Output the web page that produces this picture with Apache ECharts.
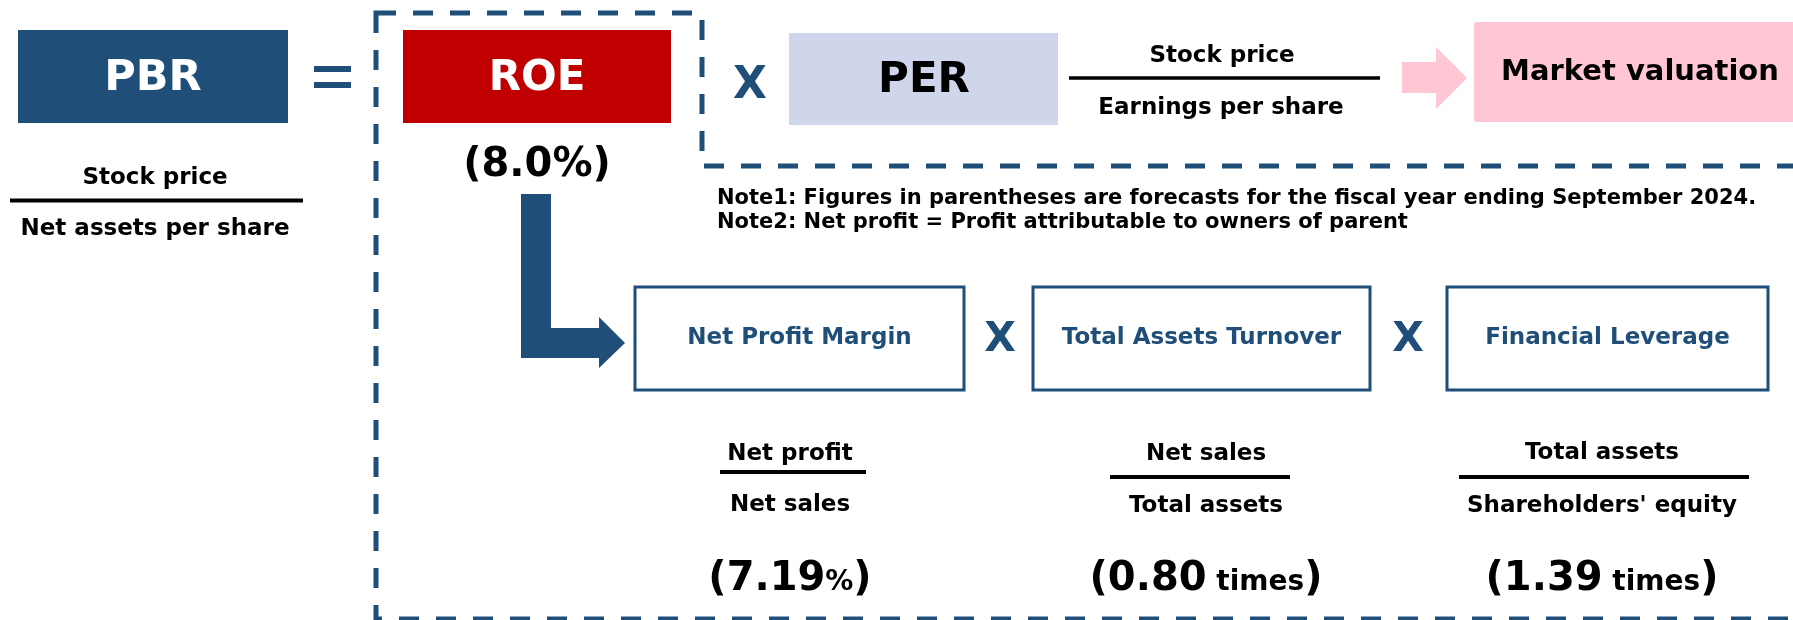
<!DOCTYPE html>
<html>
<head>
<meta charset="utf-8">
<script src="https://cdn.jsdelivr.net/npm/echarts@6/dist/echarts.min.js"></script>
<style>
html, body { margin: 0; padding: 0; background: #fff; }
#main { width: 1793px; height: 620px; }
</style>
</head>
<body>
<div id="main"></div>
<script>
// 数据
var topTerms = ['PBR', 'ROE', 'PER', 'Market valuation'];
var roeValue = '8.0';
var pbrFraction = ['Stock price', 'Net assets per share'];
var perFraction = ['Stock price', 'Earnings per share'];
var ratioNames = ['Net Profit Margin', 'Total Assets Turnover', 'Financial Leverage'];
var ratioNumer = ['Net profit', 'Net sales', 'Total assets'];
var ratioDenom = ['Net sales', 'Total assets', "Shareholders' equity"];
var ratioValues = ['7.19', '0.80', '1.39'];
var ratioUnits = ['%', ' times', ' times'];
var notes = [
    'Note1: Figures in parentheses are forecasts for the fiscal year ending September 2024.',
    'Note2: Net profit = Profit attributable to owners of parent'
];

// 样式/布局
var FONT = '"DejaVu Sans", Verdana, sans-serif';
var BLUE = '#1F4E79';
var boxX = [635, 1033, 1447];
var boxW = [329, 337, 321];
var colX = [790, 1206, 1602];
var fracLine = [[720, 866, 472], [1110, 1290, 477], [1459, 1749, 477]];
var numerY = [454, 454, 453];
var denomY = [505, 506, 506];
var timesX = [1000, 1408];

function txt(x, y, text, size, color, align) {
    return {
        type: 'text',
        style: {
            x: x, y: y, text: text,
            fontFamily: FONT, fontWeight: 'bold', fontSize: size,
            fill: color || '#000',
            align: align || 'center', verticalAlign: 'middle'
        }
    };
}
function rect(x, y, w, h, fill, stroke, lw) {
    return {
        type: 'rect',
        shape: { x: x, y: y, width: w, height: h },
        style: { fill: fill || 'none', stroke: stroke || null, lineWidth: lw || 0 }
    };
}
function line(x1, y1, x2, y2, lw, color) {
    return {
        type: 'line',
        shape: { x1: x1, y1: y1, x2: x2, y2: y2 },
        style: { stroke: color || '#000', lineWidth: lw }
    };
}
function valueText(x, y, num, unit, unitSize) {
    var base = { fontFamily: FONT, fontWeight: 'bold', fill: '#000', verticalAlign: 'bottom', lineHeight: 48 };
    return {
        type: 'text',
        style: {
            x: x, y: y, text: '{n|(' + num + '}{u|' + unit + '}{n|)}',
            align: 'center', verticalAlign: 'middle',
            rich: {
                n: Object.assign({ fontSize: 40 }, base),
                u: Object.assign({ fontSize: unitSize, padding: [0, 0, 3, 0] }, base)
            }
        }
    };
}

var els = [];

// 虚线框
els.push({
    type: 'polygon',
    shape: { points: [[376, 13], [702, 13], [702, 166], [1815, 166], [1815, 619], [376, 619]] },
    style: { fill: 'none', stroke: BLUE, lineWidth: 5, lineDash: [20, 17] }
});

// PBR = ROE x PER
els.push(rect(18, 30, 270, 93, BLUE));
els.push(txt(153, 79, topTerms[0], 43, '#fff'));
els.push(rect(314, 66, 37, 6, BLUE));
els.push(rect(314, 82, 37, 6, BLUE));
els.push(rect(403, 30, 268, 93, '#C00000'));
els.push(txt(537, 79, topTerms[1], 42, '#fff'));
els.push(txt(537, 166, '(' + roeValue + '%)', 40, '#000'));
els.push(txt(750, 87, 'X', 44, BLUE));
els.push(rect(789, 33, 269, 92, '#CFD5EA'));
els.push(txt(924, 81, topTerms[2], 42, '#000'));

// PBR 分数
els.push(txt(155, 178, pbrFraction[0], 23));
els.push(line(10, 200.5, 303, 200.5, 4));
els.push(txt(155, 229, pbrFraction[1], 23));

// PER 分数
els.push(txt(1222, 56, perFraction[0], 23));
els.push(line(1069, 78, 1380, 78, 3.5));
els.push(txt(1221, 108, perFraction[1], 23));

// 粉色箭头 + 市场评价
els.push({
    type: 'polygon',
    shape: { points: [[1402, 62], [1436, 62], [1436, 47], [1467, 78], [1436, 109], [1436, 93], [1402, 93]] },
    style: { fill: '#FFC7D4' }
});
els.push({
    type: 'rect',
    shape: { x: 1474, y: 22, width: 340, height: 100, r: 2 },
    style: { fill: '#FFC7D4' }
});
els.push(txt(1640, 72, topTerms[3], 29, '#000'));

// 注释
els.push(txt(717, 199, notes[0], 21, '#000', 'left'));
els.push(txt(717, 223, notes[1], 21, '#000', 'left'));

// L 形箭头
els.push({
    type: 'polygon',
    shape: { points: [[521, 194], [551, 194], [551, 328], [599, 328], [599, 317], [625, 343], [599, 368], [599, 358], [521, 358]] },
    style: { fill: BLUE }
});

// 三项分解
for (var i = 0; i < ratioNames.length; i++) {
    els.push(rect(boxX[i], 287, boxW[i], 103, '#fff', BLUE, 3));
    els.push(txt(boxX[i] + boxW[i] / 2, 338, ratioNames[i], 23, BLUE));
    els.push(txt(colX[i], numerY[i], ratioNumer[i], 23));
    els.push(line(fracLine[i][0], fracLine[i][2], fracLine[i][1], fracLine[i][2], 4));
    els.push(txt(colX[i], denomY[i], ratioDenom[i], 23));
    els.push(valueText(colX[i], 576, ratioValues[i], ratioUnits[i], 28));
}
for (var j = 0; j < timesX.length; j++) {
    els.push(txt(timesX[j], 340, 'X', 41, BLUE));
}

var myChart = echarts.init(document.getElementById('main'));
myChart.setOption({
    backgroundColor: '#fff',
    animation: false,
    graphic: { elements: els }
});
</script>
</body>
</html>
